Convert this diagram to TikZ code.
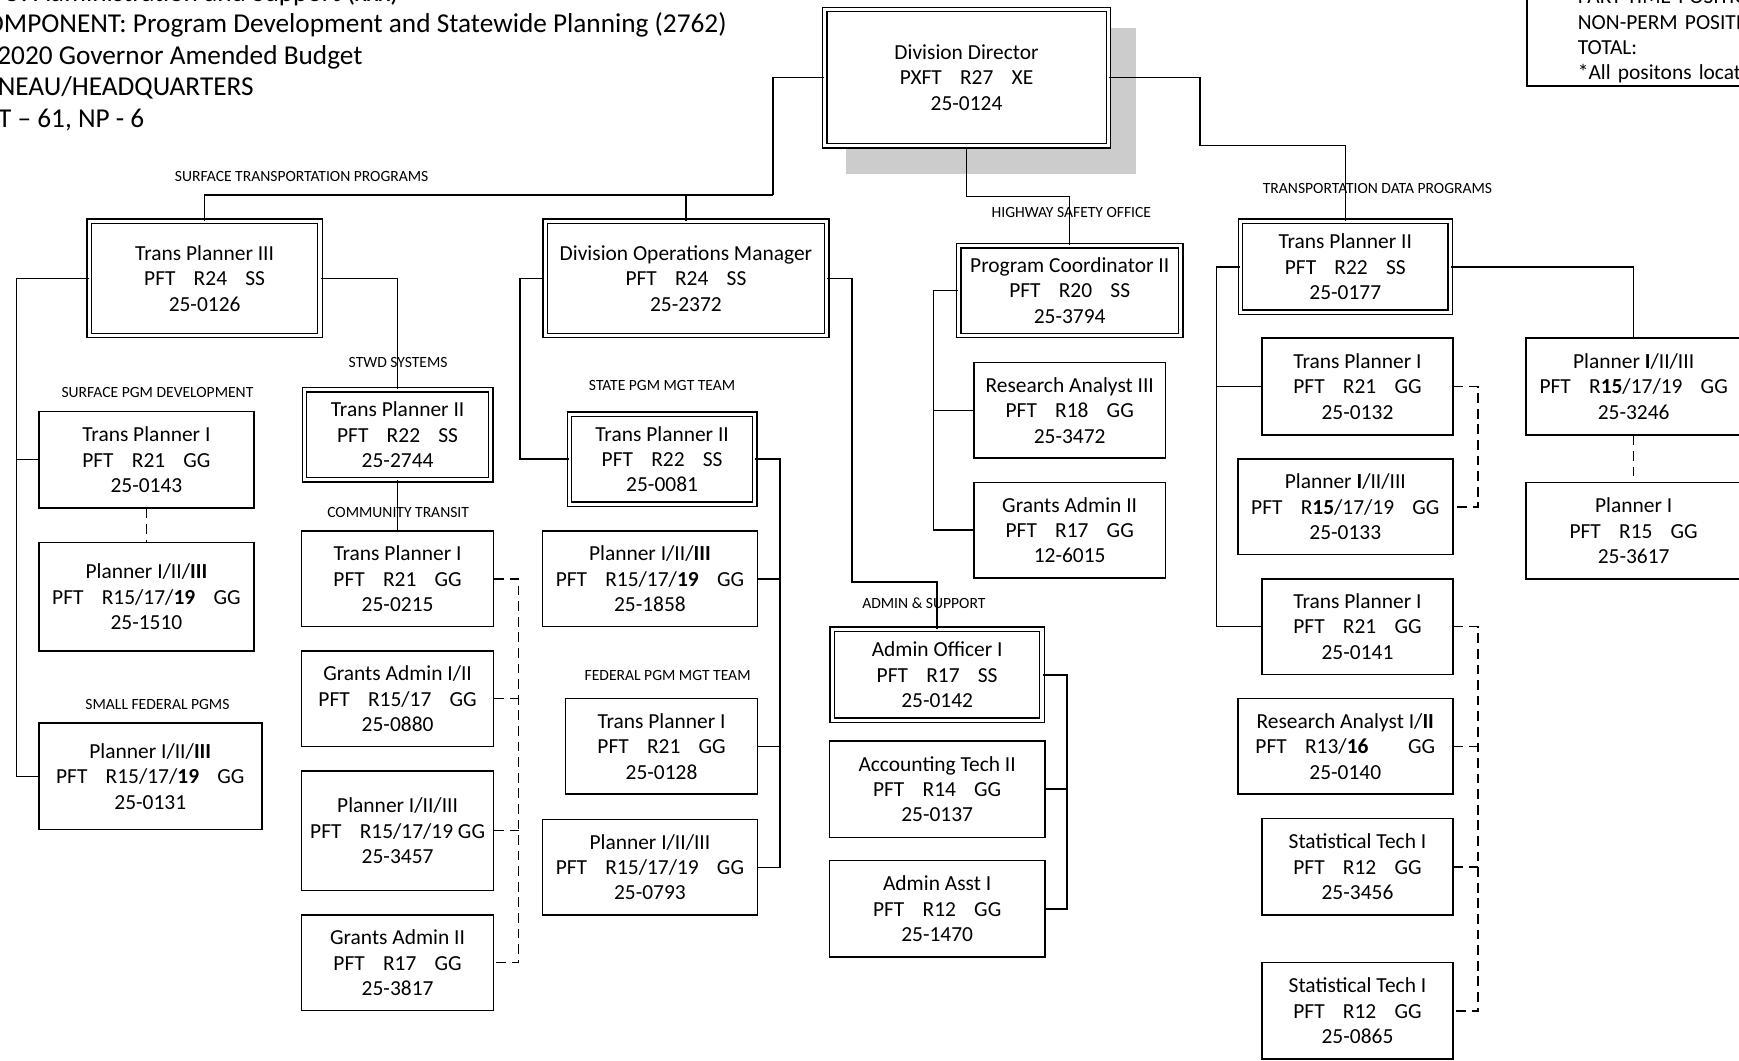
\documentclass[tikz,border=0pt]{standalone}
\usepackage{fontspec}
\setmainfont{Carlito}
\usepackage{tikz}

\newcommand{\gp}{\hspace{0.85em}}

\begin{document}
\begin{tikzpicture}[x=0.02cm, y=-0.02cm,
    box/.style={draw, line width=0.8pt, align=center, inner sep=1pt, font=\fontsize{11}{13}\selectfont},
    lead/.style={box, double, double distance=1.6pt, line width=0.7pt},
    sz/.style 2 args={minimum width=#1*0.02cm, minimum height=#2*0.02cm},
    tag/.style={inner sep=0pt, font=\fontsize{8}{9}\selectfont},
    hdr/.style={anchor=base west, inner sep=0pt, font=\fontsize{14}{16}\selectfont},
    link/.style={line width=0.8pt},
    dotlink/.style={line width=0.8pt, dash pattern=on 5pt off 3pt}
]
\useasboundingbox (0,0) rectangle (1568,956);

% header
\node[hdr] (h1) at (-26,1) {RDU: Administration and Support (xxx)};
\node[hdr] (h2) at (-26,29) {COMPONENT: Program Development and Statewide Planning (2762)};
\node[hdr] (h3) at (-26,58) {FY2020 Governor Amended Budget};
\node[hdr] (h4) at (-26,86) {JUNEAU/HEADQUARTERS};
\node[hdr] (h5) at (-26,115) {PFT -- 61, NP - 6};

% legend
\node[draw, line width=0.8pt, anchor=south west, align=left, text width=8cm,
      inner xsep=0.92cm, inner ysep=1.2pt, font=\fontsize{11}{13}\selectfont] (legend) at (1376,78)
      {PART-TIME POSITIONS:\\NON-PERM POSITIONS:\\TOTAL:\\{*}All positons located in Juneau};

% director
\fill[black!20] (763,25) rectangle (1024,157);
\node[lead, sz={256}{123}, fill=white] (dir) at (871.5,70) {Division Director\\PXFT\gp R27\gp XE\\25-0124};

% section heads
\node[lead, sz={208}{103}] (tpiii) at (184.5,251) {Trans Planner III\\PFT\gp R24\gp SS\\25-0126};
\node[lead, sz={254}{103}] (dom) at (618.5,251) {Division Operations Manager\\PFT\gp R24\gp SS\\25-2372};
\node[lead, sz={200}{81}] (pcii) at (964.5,262) {Program Coordinator II\\PFT\gp R20\gp SS\\25-3794};
\node[lead, sz={189}{82}] (tpiid) at (1213,240.5) {Trans Planner II\\PFT\gp R22\gp SS\\25-0177};

% surface pgm development / small federal
\node[box, sz={194}{87}] (tpia) at (132,414.5) {Trans Planner I\\PFT\gp R21\gp GG\\25-0143};
\node[box, sz={194}{98}] (pla) at (132,538) {Planner I/II/\textbf{III}\\PFT\gp R15/17/\textbf{19}\gp GG\\25-1510};
\node[box, sz={201}{96}] (plb) at (135.5,700) {Planner I/II/\textbf{III}\\PFT\gp R15/17/\textbf{19}\gp GG\\25-0131};

% stwd systems
\node[lead, sz={168}{81}] (tpiis) at (358.5,392) {Trans Planner II\\PFT\gp R22\gp SS\\25-2744};
\node[box, sz={173}{86}] (tpib) at (358.5,522) {Trans Planner I\\PFT\gp R21\gp GG\\25-0215};
\node[box, sz={173}{86}] (gaa) at (358.5,630) {Grants Admin I/II\\PFT\gp R15/17\gp GG\\25-0880};
\node[box, sz={173}{108}] (plc) at (358.5,749) {Planner I/II/III\\PFT\gp R15/17/19 GG\\25-3457};
\node[box, sz={173}{86}] (gab) at (358.5,868) {Grants Admin II\\PFT\gp R17\gp GG\\25-3817};

% state / federal pgm mgt
\node[lead, sz={167}{81}] (tpiim) at (597,414) {Trans Planner II\\PFT\gp R22\gp SS\\25-0081};
\node[box, sz={194}{86}] (pld) at (586,522) {Planner I/II/\textbf{III}\\PFT\gp R15/17/\textbf{19}\gp GG\\25-1858};
\node[box, sz={173}{86}] (tpic) at (596.5,673) {Trans Planner I\\PFT\gp R21\gp GG\\25-0128};
\node[box, sz={194}{86}] (ple) at (586,782) {Planner I/II/III\\PFT\gp R15/17/19\gp GG\\25-0793};

% admin & support
\node[lead, sz={189}{82}] (ao) at (845,608.5) {Admin Officer I\\PFT\gp R17\gp SS\\25-0142};
\node[box, sz={194}{87}] (atk) at (845,711.5) {Accounting Tech II\\PFT\gp R14\gp GG\\25-0137};
\node[box, sz={194}{87}] (aa) at (845,819.5) {Admin Asst I\\PFT\gp R12\gp GG\\25-1470};

% highway safety office
\node[box, sz={173}{86}] (raiii) at (964.5,370) {Research Analyst III\\PFT\gp R18\gp GG\\25-3472};
\node[box, sz={173}{86}] (gac) at (964.5,478) {Grants Admin II\\PFT\gp R17\gp GG\\12-6015};

% transportation data
\node[box, sz={172}{87}] (tpid) at (1224,348.5) {Trans Planner I\\PFT\gp R21\gp GG\\25-0132};
\node[box, sz={194}{86}] (plf) at (1213,457) {Planner \textbf{I}/II/III\\PFT\gp R\textbf{15}/17/19\gp GG\\25-0133};
\node[box, sz={172}{86}] (tpie) at (1224,565) {Trans Planner I\\PFT\gp R21\gp GG\\25-0141};
\node[box, sz={194}{86}] (ra) at (1213,673) {Research Analyst I/\textbf{II}\\PFT\gp R13/\textbf{16}\quad\gp GG\\25-0140};
\node[box, sz={172}{87}] (sta) at (1224,781.5) {Statistical Tech I\\PFT\gp R12\gp GG\\25-3456};
\node[box, sz={172}{87}] (stb) at (1224,911.5) {Statistical Tech I\\PFT\gp R12\gp GG\\25-0865};
\node[box, sz={194}{87}] (plg) at (1473,348.5) {Planner \textbf{I}/II/III\\PFT\gp R\textbf{15}/17/19\gp GG\\25-3246};
\node[box, sz={194}{87}] (plh) at (1473,478.5) {Planner I\\PFT\gp R15\gp GG\\25-3617};

% lines from the director
\draw[link] (dir.west) -| (697,176) coordinate (stp);
\draw[link] (stp) -| (tpiii.north);
\draw[link] (stp) -| (dom.north);
\draw[link] (dir.south) -- ++(0,45) -| (pcii.north);
\draw[link] (dir.east) -| (1082,131) -| (tpiid.north);

% surface transportation
\draw[link] (tpiii.west) -- ++(-65,0) coordinate (sp) |- (plb.west);
\draw[link] (sp) |- (tpia.west);
\draw[link] (tpiii.east) -| (tpiis.north);
\draw[link] (tpiis.south) -- (tpib.north);
\draw[dotlink] (tpia.south) -- (pla.north);
\draw[dotlink] (tpib.east) -- ++(22,0) coordinate (ct) |- (gab.east);
\draw[dotlink] (gaa.east) -- (gaa.east -| ct);
\draw[dotlink] (plc.east) -- (plc.east -| ct);

% operations
\draw[link] (dom.west) -- ++(-22,0) |- (tpiim.west);
\draw[link] (dom.east) -| ++(22,274) -| (ao.north);
\draw[link] (tpiim.east) -- ++(22,0) coordinate (sm) |- (ple.east);
\draw[link] (pld.east) -- (pld.east -| sm);
\draw[link] (tpic.east) -- (tpic.east -| sm);
\draw[link] (ao.east) -- ++(22,0) coordinate (as) |- (aa.east);
\draw[link] (atk.east) -- (atk.east -| as);

% highway safety
\draw[link] (pcii.west) -- ++(-22,0) coordinate (hs) |- (gac.west);
\draw[link] (raiii.west) -- (raiii.west -| hs);

% data programs
\draw[link] (tpiid.west) -- ++(-21,0) coordinate (td) |- (tpie.west);
\draw[link] (tpid.west) -- (tpid.west -| td);
\draw[link] (tpiid.east) -| (plg.north);
\draw[dotlink] (tpid.east) -- ++(22,0) |- (plf.east);
\draw[dotlink] (tpie.east) -- ++(22,0) coordinate (tt) |- (stb.east);
\draw[dotlink] (ra.east) -- (ra.east -| tt);
\draw[dotlink] (sta.east) -- (sta.east -| tt);
\draw[dotlink] (plg.south) -- (plh.north);

% group names
\node[tag] (lsurf) at (272,159) {SURFACE TRANSPORTATION PROGRAMS};
\node[tag] (lstwd) at (359,327) {STWD SYSTEMS};
\node[tag] (ldev) at (142,354) {SURFACE PGM DEVELOPMENT};
\node[tag] (lsmall) at (142,635) {SMALL FEDERAL PGMS};
\node[tag] (lcomm) at (359,462) {COMMUNITY TRANSIT};
\node[tag] (lstate) at (597,348) {STATE PGM MGT TEAM};
\node[tag] (lfed) at (602,609) {FEDERAL PGM MGT TEAM};
\node[tag] (ladmin) at (833,544) {ADMIN \& SUPPORT};
\node[tag] (lhwy) at (966,192) {HIGHWAY SAFETY OFFICE};
\node[tag] (ldata) at (1242,170) {TRANSPORTATION DATA PROGRAMS};
\end{tikzpicture}
\end{document}
